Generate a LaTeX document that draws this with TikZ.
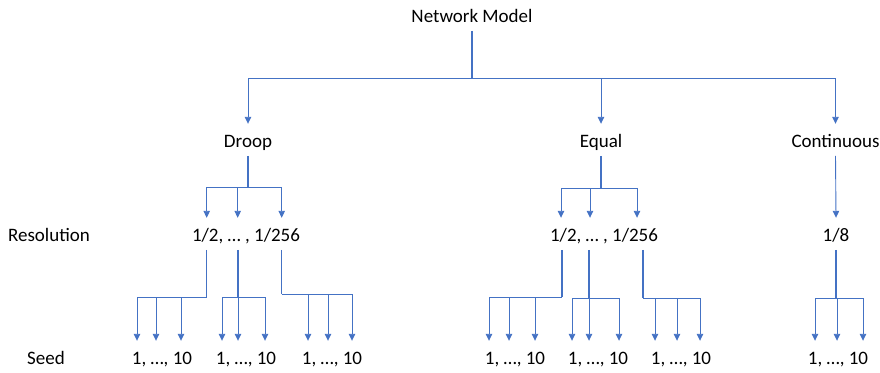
\documentclass[tikz,border=0pt]{standalone}
\usepackage{fontspec}
\setmainfont{Carlito}
\usetikzlibrary{arrows.meta, positioning, calc}

\definecolor{linkblue}{HTML}{4472C4}

\tikzset{
  label_text/.style={anchor=base, font=\fontsize{19}{22}\selectfont, text height=19pt, text depth=4.75pt, inner xsep=0pt, inner ysep=4pt},
  branch/.style={draw=linkblue, line width=0.9pt},
  stem/.style={draw=linkblue, line width=1.4pt},
  drop/.style={linkblue, line width=0.9pt, -{Triangle[length=7pt,width=6.5pt]}},
}

\begin{document}
\begin{tikzpicture}[x=1pt, y=-1pt]
\useasboundingbox (0,0) rectangle (880,372);

\node[label_text] (net_model) at (472,22) {Network Model};
\node[label_text] (droop) at (248,147) {Droop};
\node[label_text] (equal) at (601,147) {Equal};
\node[label_text] (continuous) at (835.5,147) {Continuous};

\node[label_text] (res_title) at (49,241) {Resolution};
\node[label_text] (droop_res) at (246,241) {1/2, … , 1/256};
\node[label_text] (equal_res) at (604,241) {1/2, … , 1/256};
\node[label_text] (cont_res) at (836,241) {1/8};

\node[label_text] (seed_title) at (46,364) {Seed};
\node[label_text] (droop_s1) at (162,364) {1, …, 10};
\node[label_text] (droop_s2) at (246,364) {1, …, 10};
\node[label_text] (droop_s3) at (332,364) {1, …, 10};
\node[label_text] (equal_s1) at (515,364) {1, …, 10};
\node[label_text] (equal_s2) at (598,364) {1, …, 10};
\node[label_text] (equal_s3) at (681,364) {1, …, 10};
\node[label_text] (cont_s1) at (838,364) {1, …, 10};

\coordinate (top_split) at (472,78);
\coordinate (droop_split) at (248,187);
\coordinate (equal_split) at (601,188);
\coordinate (droop_a) at (206.7,187); \coordinate (droop_b) at (237.7,187); \coordinate (droop_c) at (281.7,187);
\coordinate (equal_a) at (561,188); \coordinate (equal_b) at (590,188); \coordinate (equal_c) at (637,188);

\coordinate (droop_j1) at (206.7,297); \coordinate (droop_1a) at (137,297); \coordinate (droop_1b) at (156,297); \coordinate (droop_1c) at (181,297);
\coordinate (droop_j2) at (238,297); \coordinate (droop_2a) at (222,297); \coordinate (droop_2b) at (238,297); \coordinate (droop_2c) at (265,297);
\coordinate (droop_j3) at (281.7,294); \coordinate (droop_3a) at (308,294); \coordinate (droop_3b) at (328,294); \coordinate (droop_3c) at (352,294);
\coordinate (equal_j1) at (562,297); \coordinate (equal_1a) at (489,297); \coordinate (equal_1b) at (509,297); \coordinate (equal_1c) at (535,297);
\coordinate (equal_j2) at (589,298); \coordinate (equal_2a) at (572,298); \coordinate (equal_2b) at (589,298); \coordinate (equal_2c) at (619,298);
\coordinate (equal_j3) at (643,298); \coordinate (equal_3a) at (655,298); \coordinate (equal_3b) at (677,298); \coordinate (equal_3c) at (700,298);
\coordinate (cont_j1) at (836,298); \coordinate (cont_1a) at (815,298); \coordinate (cont_1b) at (837,298); \coordinate (cont_1c) at (863,298);

% network model -> three schemes
\path[stem] (net_model.south) -- (top_split);
\path[branch] (droop.north |- top_split) -- (continuous.north |- top_split);
\path[drop]
	(droop.north |- top_split) edge (droop.north)
	(equal.north |- top_split) edge (equal.north)
	(continuous.north |- top_split) edge (continuous.north)
;

% schemes -> resolutions
\path[stem] (droop.south) -- (droop_split);
\path[stem] (equal.south) -- (equal_split);
\path[branch] (droop_a) -- (droop_c);
\path[branch] (equal_a) -- (equal_c);
\path[drop]
	(droop_a) edge (droop_a |- droop_res.north)
	(droop_b) edge (droop_b |- droop_res.north)
	(droop_c) edge (droop_c |- droop_res.north)
	(equal_a) edge (equal_a |- equal_res.north)
	(equal_b) edge (equal_b |- equal_res.north)
	(equal_c) edge (equal_c |- equal_res.north)
	(continuous.south) edge (cont_res.north)
;

% resolutions -> seeds
\path[stem] (droop_j1 |- droop_res.south) -- (droop_j1);
\path[stem] (droop_j2 |- droop_res.south) -- (droop_j2);
\path[stem] (droop_j3 |- droop_res.south) -- (droop_j3);
\path[stem] (equal_j1 |- equal_res.south) -- (equal_j1);
\path[stem] (equal_j2 |- equal_res.south) -- (equal_j2);
\path[stem] (equal_j3 |- equal_res.south) -- (equal_j3);
\path[stem] (cont_res.south) -- (cont_j1);
\path[branch] (droop_1a) -- (droop_j1);
\path[branch] (droop_2a) -- (droop_2c);
\path[branch] (droop_j3) -- (droop_3c);
\path[branch] (equal_1a) -- (equal_j1);
\path[branch] (equal_2a) -- (equal_2c);
\path[branch] (equal_j3) -- (equal_3c);
\path[branch] (cont_1a) -- (cont_1c);
\path[drop]
	(droop_1a) edge (droop_1a |- droop_s1.north)
	(droop_1b) edge (droop_1b |- droop_s1.north)
	(droop_1c) edge (droop_1c |- droop_s1.north)
	(droop_2a) edge (droop_2a |- droop_s2.north)
	(droop_2b) edge (droop_2b |- droop_s2.north)
	(droop_2c) edge (droop_2c |- droop_s2.north)
	(droop_3a) edge (droop_3a |- droop_s3.north)
	(droop_3b) edge (droop_3b |- droop_s3.north)
	(droop_3c) edge (droop_3c |- droop_s3.north)
	(equal_1a) edge (equal_1a |- equal_s1.north)
	(equal_1b) edge (equal_1b |- equal_s1.north)
	(equal_1c) edge (equal_1c |- equal_s1.north)
	(equal_2a) edge (equal_2a |- equal_s2.north)
	(equal_2b) edge (equal_2b |- equal_s2.north)
	(equal_2c) edge (equal_2c |- equal_s2.north)
	(equal_3a) edge (equal_3a |- equal_s3.north)
	(equal_3b) edge (equal_3b |- equal_s3.north)
	(equal_3c) edge (equal_3c |- equal_s3.north)
	(cont_1a) edge (cont_1a |- cont_s1.north)
	(cont_1b) edge (cont_1b |- cont_s1.north)
	(cont_1c) edge (cont_1c |- cont_s1.north)
;
\end{tikzpicture}
\end{document}
